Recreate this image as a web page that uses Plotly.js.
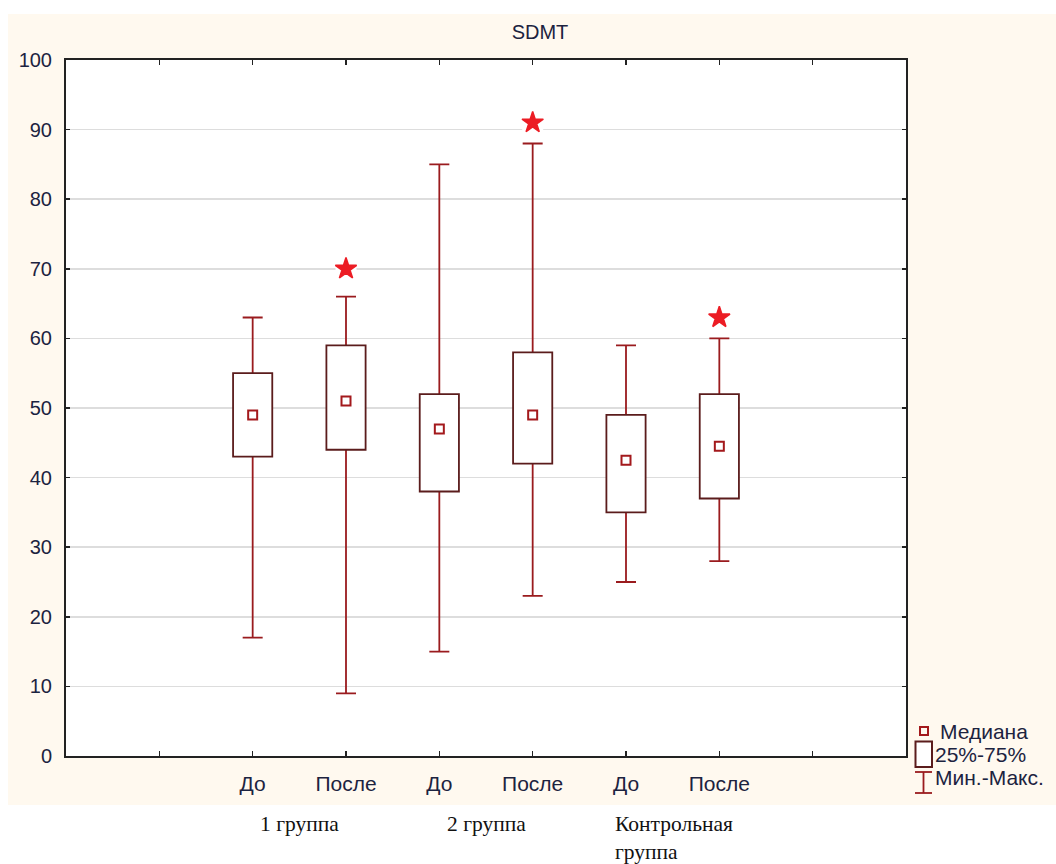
<!DOCTYPE html>
<html>
<head>
<meta charset="utf-8">
<script src="https://cdn.plot.ly/plotly-3.0.1.min.js"></script>
<style>
  html, body { margin: 0; padding: 0; background: #ffffff; }
  #bg { position: absolute; left: 8px; top: 14px; width: 1048px; height: 791px; background: #FFF9EF; }
  #chart { position: absolute; left: 0; top: 0; width: 1056px; height: 864px; }
</style>
</head>
<body>
<div id="bg"></div>
<div id="chart"></div>
<script>
// ---- data ----
const timepoints = ['До', 'После', 'До', 'После', 'До', 'После'];
const groupLabels = ['1 группа', '2 группа', 'Контрольная<br>группа'];
const minVals    = [17, 9, 15, 23, 25, 28];
const q1Vals     = [43, 44, 38, 42, 35, 37];
const medianVals = [49, 51, 47, 49, 42.5, 44.5];
const q3Vals     = [55, 59, 52, 58, 49, 52];
const maxVals    = [63, 66, 85, 88, 59, 60];
const starVals   = [null, 70, null, 91, null, 63];
const yTicks     = [0, 10, 20, 30, 40, 50, 60, 70, 80, 90, 100];
const legendLabels = ['Медиана', '25%-75%', 'Мин.-Макс.'];

// ---- derived ----
const slotOffset = 2;                       // two empty slots at the left edge
const xs = timepoints.map((_, i) => i + slotOffset);
const nSlots = timepoints.length + 3;       // axis range 0..9, ticks at 1..8
const tickVals = [];
const tickText = [];
for (let k = 1; k < nSlots; k++) {
  tickVals.push(k);
  const idx = k - slotOffset;
  tickText.push(idx >= 0 && idx < timepoints.length ? timepoints[idx] : '');
}

const whiskerColor = '#9A1B1E';
const boxColor = '#5B1C1C';
const medianColor = '#A3191C';
const starColor = '#EC1C24';
const textColor = '#1c2340';
const sans = 'Liberation Sans, Arial, sans-serif';

const traces = [
  // whiskers (main subplot, below boxes)
  {
    type: 'scatter', mode: 'markers', x: xs, y: medianVals,
    marker: { size: 1, color: 'rgba(0,0,0,0)' },
    error_y: {
      type: 'data', symmetric: false,
      array: maxVals.map((v, i) => v - medianVals[i]),
      arrayminus: medianVals.map((v, i) => v - minVals[i]),
      color: whiskerColor, thickness: 1.8, width: 10
    },
    hoverinfo: 'skip', showlegend: false, xaxis: 'x', yaxis: 'y'
  },
  // boxes (overlay subplot, drawn above whiskers)
  {
    type: 'bar', x: xs, y: q3Vals.map((v, i) => v - q1Vals[i]), base: q1Vals,
    width: 0.42,
    marker: { color: '#ffffff', line: { color: boxColor, width: 1.8 } },
    hoverinfo: 'skip', showlegend: false, xaxis: 'x2', yaxis: 'y'
  },
  // medians
  {
    type: 'scatter', mode: 'markers', x: xs, y: medianVals,
    marker: { symbol: 'square-open', size: 9, color: medianColor, line: { width: 2, color: medianColor } },
    hoverinfo: 'skip', showlegend: false, xaxis: 'x2', yaxis: 'y'
  },
  // white halo behind stars
  {
    type: 'scatter', mode: 'markers', x: xs, y: starVals,
    marker: { symbol: 'square', size: 21, color: '#ffffff' },
    hoverinfo: 'skip', showlegend: false, xaxis: 'x2', yaxis: 'y'
  },
  // stars
  {
    type: 'scatter', mode: 'markers', x: xs, y: starVals,
    marker: { symbol: 'star', size: 16, color: starColor, line: { width: 1.5, color: starColor } },
    hoverinfo: 'skip', showlegend: false, xaxis: 'x2', yaxis: 'y'
  }
];

// legend geometry helpers (paper coords)
const L = 66, R = 906, T = 60, B = 756;
const px = p => (p - L) / (R - L);
const py = p => (B - p) / (B - T);

const shapes = [
  // median icon
  { type: 'rect', xref: 'paper', yref: 'paper', x0: px(920), x1: px(928), y0: py(735), y1: py(727),
    line: { color: medianColor, width: 2 }, fillcolor: 'rgba(0,0,0,0)' },
  // box icon
  { type: 'rect', xref: 'paper', yref: 'paper', x0: px(915.5), x1: px(932), y0: py(767), y1: py(741.5),
    line: { color: boxColor, width: 2 }, fillcolor: '#ffffff' },
  // whisker icon
  { type: 'line', xref: 'paper', yref: 'paper', x0: px(923.5), x1: px(923.5), y0: py(793), y1: py(772),
    line: { color: whiskerColor, width: 1.8 } },
  { type: 'line', xref: 'paper', yref: 'paper', x0: px(915), x1: px(932), y0: py(772), y1: py(772),
    line: { color: whiskerColor, width: 1.8 } },
  { type: 'line', xref: 'paper', yref: 'paper', x0: px(915), x1: px(932), y0: py(793), y1: py(793),
    line: { color: whiskerColor, width: 1.8 } }
];

const annotations = [];
const legendPos = [[938, 731], [933, 754], [933, 777]];
legendLabels.forEach((t, i) => {
  annotations.push({
    text: t, xref: 'paper', yref: 'paper', x: px(legendPos[i][0]), y: py(legendPos[i][1]),
    xanchor: 'left', yanchor: 'middle', showarrow: false,
    font: { family: sans, size: 21, color: textColor }
  });
});
groupLabels.forEach((g, i) => {
  const last = i === groupLabels.length - 1;
  annotations.push({
    text: g, xref: 'x', yref: 'paper',
    x: xs[2 * i] + 0.5, y: py(810),
    xanchor: last ? 'left' : 'center', yanchor: 'top',
    xshift: last ? -60 : 0,
    align: 'left', showarrow: false,
    font: { family: 'Liberation Serif, Times New Roman, serif', size: 21.5, color: '#111111' }
  });
});

const layout = {
  width: 1056, height: 864,
  margin: { l: L, r: 1056 - R, t: T, b: 864 - B, pad: 0 },
  paper_bgcolor: 'rgba(0,0,0,0)',
  plot_bgcolor: '#ffffff',
  showlegend: false,
  barmode: 'overlay',
  title: {
    text: 'SDMT', x: 540 / 1056, xanchor: 'center', y: 1 - 32 / 864, yanchor: 'middle',
    xref: 'container', yref: 'container',
    font: { family: sans, size: 20, color: textColor }
  },
  xaxis: {
    range: [0, nSlots], tickmode: 'array', tickvals: tickVals, ticktext: tickText,
    ticks: 'inside', ticklen: 5, tickwidth: 1.5, tickcolor: '#222222',
    showline: true, linecolor: '#222222', linewidth: 2, mirror: 'ticks',
    showgrid: false, zeroline: false, fixedrange: true,
    ticklabelstandoff: 8,
    tickfont: { family: sans, size: 21, color: textColor }
  },
  xaxis2: {
    overlaying: 'x', matches: 'x', range: [0, nSlots], visible: false, fixedrange: true
  },
  yaxis: {
    range: [0, 100], tickmode: 'array', tickvals: yTicks,
    ticks: 'inside', ticklen: 4, tickwidth: 1.5, tickcolor: '#222222',
    showline: true, linecolor: '#222222', linewidth: 2, mirror: 'ticks',
    showgrid: true, gridcolor: '#dddddd', gridwidth: 1.5, zeroline: false, fixedrange: true,
    ticklabelstandoff: 8,
    tickfont: { family: sans, size: 20, color: textColor }
  },
  shapes: shapes,
  annotations: annotations
};

Plotly.newPlot('chart', traces, layout, { displayModeBar: false, staticPlot: true });
</script>
</body>
</html>
